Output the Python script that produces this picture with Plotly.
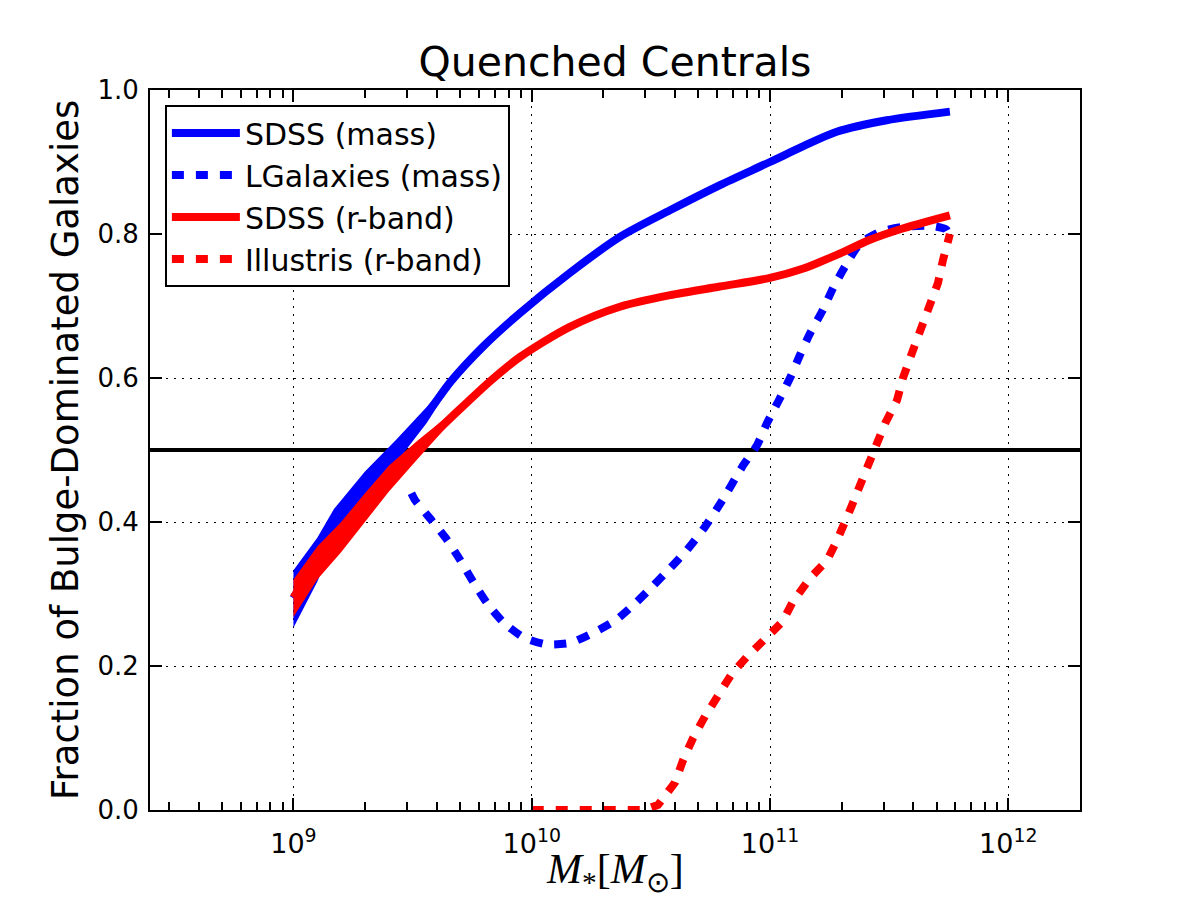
import math
import plotly.graph_objects as go

# ---------------- data ----------------
# SDSS (mass) central curve
sdss_mass_logM = [9.0, 9.1, 9.17, 9.3, 9.43, 9.56, 9.66, 9.8, 9.95, 10.16, 10.37,
                  10.58, 10.79, 11.0, 11.14, 11.28, 11.49, 11.755]
sdss_mass_frac = [0.294, 0.35, 0.40, 0.455, 0.50, 0.55, 0.595, 0.645, 0.69, 0.746,
                  0.796, 0.833, 0.868, 0.90, 0.922, 0.942, 0.958, 0.970]
# SDSS (mass) spread at the low-mass end
sdss_mass_band_logM = [9.0, 9.1, 9.17, 9.3, 9.43, 9.56, 9.66]
sdss_mass_band_hi = [0.333, 0.378, 0.418, 0.470, 0.514, 0.560, 0.600]
sdss_mass_band_lo = [0.253, 0.317, 0.372, 0.433, 0.482, 0.538, 0.590]

# LGalaxies (mass)
lgal_logM = [9.495, 9.511, 9.578, 9.645, 9.70, 9.754, 9.813, 9.88, 9.964, 10.061,
             10.161, 10.258, 10.354, 10.434, 10.505, 10.581, 10.651, 10.72, 10.80,
             10.882, 10.946, 10.987, 11.034, 11.084, 11.126, 11.168, 11.218, 11.265,
             11.315, 11.378, 11.462, 11.558, 11.684, 11.74, 11.755]
lgal_frac = [0.44, 0.43, 0.403, 0.375, 0.347, 0.317, 0.287, 0.261, 0.24, 0.23,
             0.232, 0.246, 0.264, 0.287, 0.31, 0.336, 0.361, 0.39, 0.43,
             0.476, 0.507, 0.537, 0.567, 0.60, 0.632, 0.662, 0.692, 0.725,
             0.755, 0.787, 0.803, 0.81, 0.811, 0.806, 0.79]

# SDSS (r-band) central curve
sdss_r_logM = [9.0, 9.1, 9.2, 9.3, 9.4, 9.52, 9.68, 9.83, 9.95, 10.16, 10.37, 10.58,
               10.79, 11.0, 11.14, 11.28, 11.42, 11.56, 11.755]
sdss_r_frac = [0.295, 0.345, 0.38, 0.42, 0.46, 0.50, 0.551, 0.597, 0.629, 0.671,
               0.699, 0.715, 0.727, 0.739, 0.752, 0.771, 0.792, 0.808, 0.826]
sdss_r_band_logM = [9.0, 9.1, 9.2, 9.3, 9.4, 9.52, 9.68]
sdss_r_band_hi = [0.320, 0.366, 0.400, 0.440, 0.478, 0.513, 0.556]
sdss_r_band_lo = [0.268, 0.320, 0.358, 0.400, 0.442, 0.487, 0.546]

# Illustris (r-band)
ill_logM = [10.0, 10.1, 10.2, 10.3, 10.4, 10.47, 10.53, 10.601, 10.635, 10.677,
            10.727, 10.782, 10.841, 10.904, 10.971, 11.051, 11.097, 11.168, 11.24,
            11.282, 11.34, 11.407, 11.433, 11.483, 11.533, 11.558, 11.596, 11.63,
            11.672, 11.705, 11.726, 11.755]
ill_frac = [0.0, 0.0, 0.0, 0.0, 0.0, 0.0, 0.007, 0.038, 0.069, 0.10,
            0.13, 0.16, 0.19, 0.213, 0.236, 0.261, 0.29, 0.322, 0.347,
            0.375, 0.42, 0.476, 0.50, 0.537, 0.569, 0.60, 0.635, 0.667,
            0.699, 0.732, 0.764, 0.80]

THRESHOLD = 0.5

x_tick_exps = [9, 10, 11, 12]
x_tick_text = ["10<sup>%d</sup>" % e for e in x_tick_exps]
y_tick_vals = [0.0, 0.2, 0.4, 0.6, 0.8, 1.0]
y_tick_text = ["0.0", "0.2", "0.4", "0.6", "0.8", "1.0"]

X_MIN, X_MAX = 2.5e8, 2.0e12

# ---------------- figure ----------------
BLUE = "#0000ff"
RED = "#ff0000"
LW = 8
DASH = "12px,12px"
FONT = "DejaVu Sans"


def mass(logs):
    return [10 ** v for v in logs]


def band(logs, hi, lo, color):
    xs = mass(logs)
    return go.Scatter(x=xs + xs[::-1], y=hi + lo[::-1], fill="toself",
                      fillcolor=color, line=dict(width=0), mode="lines",
                      showlegend=False, hoverinfo="skip")


fig = go.Figure()
fig.add_trace(band(sdss_mass_band_logM, sdss_mass_band_hi, sdss_mass_band_lo, BLUE))
fig.add_trace(go.Scatter(x=mass(sdss_mass_logM), y=sdss_mass_frac, mode="lines",
                         name="SDSS (mass)",
                         line=dict(color=BLUE, width=LW, shape="spline",
                                   smoothing=0.8)))
fig.add_trace(go.Scatter(x=mass(lgal_logM), y=lgal_frac, mode="lines",
                         name="LGalaxies (mass)",
                         line=dict(color=BLUE, width=LW, dash=DASH,
                                   shape="spline", smoothing=0.6)))
fig.add_trace(band(sdss_r_band_logM, sdss_r_band_hi, sdss_r_band_lo, RED))
fig.add_trace(go.Scatter(x=mass(sdss_r_logM), y=sdss_r_frac, mode="lines",
                         name="SDSS (r-band)",
                         line=dict(color=RED, width=LW, shape="spline",
                                   smoothing=0.8)))
fig.add_trace(go.Scatter(x=mass(ill_logM), y=ill_frac, mode="lines",
                         name="Illustris (r-band)",
                         line=dict(color=RED, width=LW, dash=DASH)))

fig.add_shape(type="line", xref="paper", x0=0, x1=1, yref="y",
              y0=THRESHOLD, y1=THRESHOLD, line=dict(color="black", width=4),
              layer="below")

minor_vals = [m * 10 ** e for e in range(8, 13) for m in range(2, 10)
              if X_MIN <= m * 10 ** e <= X_MAX]

fig.update_layout(
    width=1200, height=900,
    margin=dict(l=150, r=120, t=90, b=90),
    paper_bgcolor="white", plot_bgcolor="white",
    font=dict(family=FONT, color="black", size=26),
    title=dict(text="Quenched Centrals", x=0.5, xref="paper", xanchor="center",
               y=0.932, yref="container", yanchor="middle",
               font=dict(family=FONT, size=41, color="black")),
    showlegend=True,
    legend=dict(x=0.016, y=0.979, xanchor="left", yanchor="top",
                bgcolor="white", bordercolor="black", borderwidth=2,
                font=dict(family=FONT, size=30, color="black"),
                traceorder="normal", itemwidth=68),
    xaxis=dict(type="log", range=[math.log10(X_MIN), math.log10(X_MAX)],
               tickmode="array", tickvals=[10 ** e for e in x_tick_exps],
               ticktext=x_tick_text, ticks="inside", ticklen=12, tickwidth=2,
               tickcolor="black", showline=True, linecolor="black", linewidth=2,
               mirror="ticks", showgrid=True, gridcolor="black", gridwidth=1,
               griddash="2px,6px", zeroline=False, ticklabelstandoff=9,
               tickfont=dict(family=FONT, size=27, color="black"),
               minor=dict(tickmode="array", tickvals=minor_vals, ticks="inside",
                          ticklen=8, tickwidth=1.5, tickcolor="black",
                          showgrid=False)),
    yaxis=dict(range=[0, 1], tickmode="array", tickvals=y_tick_vals,
               ticktext=y_tick_text, ticks="inside", ticklen=12, tickwidth=2,
               tickcolor="black", showline=True, linecolor="black", linewidth=2,
               mirror="ticks", showgrid=True, gridcolor="black", gridwidth=1,
               griddash="2px,6px", zeroline=False, ticklabelstandoff=4,
               tickfont=dict(family=FONT, size=26, color="black")),
)

fig.add_annotation(text="<i>M</i><sub>*</sub>[<i>M</i><sub>\u2299</sub>]",
                   xref="paper", yref="paper", x=0.5, y=-0.086,
                   xanchor="center", yanchor="middle", showarrow=False,
                   font=dict(family="Liberation Serif", size=42, color="black"))
fig.add_annotation(text="Fraction of Bulge-Dominated Galaxies",
                   xref="paper", yref="paper", x=-0.0914, y=0.5,
                   xanchor="center", yanchor="middle", showarrow=False,
                   textangle=-90,
                   font=dict(family=FONT, size=37, color="black"))

fig.write_html("out.html")
